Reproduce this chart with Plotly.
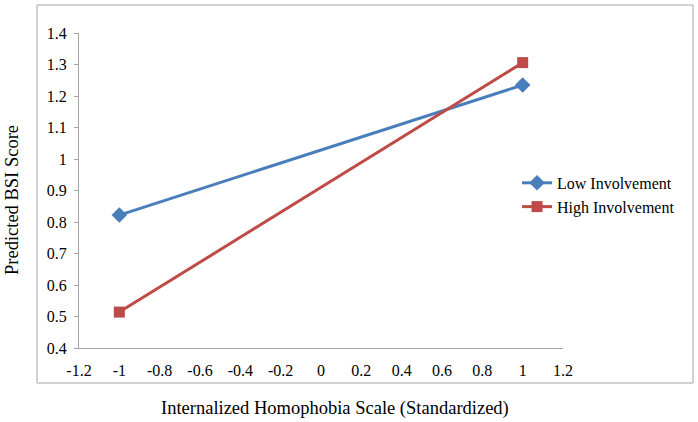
import plotly.graph_objects as go

x_vals = [-1, 1]
low_involvement = [0.822, 1.235]
high_involvement = [0.514, 1.306]
x_ticks = [-1.2, -1, -0.8, -0.6, -0.4, -0.2, 0, 0.2, 0.4, 0.6, 0.8, 1, 1.2]
x_tick_labels = ["-1.2", "-1", "-0.8", "-0.6", "-0.4", "-0.2", "0", "0.2", "0.4", "0.6", "0.8", "1", "1.2"]
y_ticks = [0.4, 0.5, 0.6, 0.7, 0.8, 0.9, 1.0, 1.1, 1.2, 1.3, 1.4]
y_tick_labels = ["0.4", "0.5", "0.6", "0.7", "0.8", "0.9", "1", "1.1", "1.2", "1.3", "1.4"]

font_family = "Liberation Serif, Times New Roman, serif"

fig = go.Figure()
fig.add_trace(go.Scatter(
    x=x_vals, y=low_involvement, mode="lines+markers", name="Low Involvement",
    line=dict(color="#4A7EBB", width=3),
    marker=dict(symbol="diamond", size=12, color="#4A7EBB"),
))
fig.add_trace(go.Scatter(
    x=x_vals, y=high_involvement, mode="lines+markers", name="High Involvement",
    line=dict(color="#BE4B48", width=3),
    marker=dict(symbol="square", size=11, color="#BE4B48"),
))

fig.update_layout(
    width=698, height=422,
    margin=dict(l=79, r=135, t=33, b=74),
    paper_bgcolor="white", plot_bgcolor="white",
    font=dict(family=font_family, size=16, color="black"),
    showlegend=True,
    legend=dict(x=0.905, y=0.486, xanchor="left", yanchor="middle",
                font=dict(family=font_family, size=16, color="black"),
                bgcolor="rgba(0,0,0,0)", tracegroupgap=0, itemwidth=30),
    shapes=[dict(type="rect", xref="paper", yref="paper",
                 x0=-42/484, x1=(693-79)/484, y0=-(383-348)/315, y1=(348-5)/315,
                 line=dict(color="#A6A6A6", width=1), fillcolor="rgba(0,0,0,0)", layer="below")],
    annotations=[
        dict(text="Internalized Homophobia Scale (Standardized)", xref="paper", yref="paper",
             x=(335-79)/484, y=-(408-348)/315, xanchor="center", yanchor="middle",
             showarrow=False, font=dict(family=font_family, size=18.5, color="black")),
        dict(text="Predicted BSI Score", xref="paper", yref="paper",
             x=(12-79)/484, y=(348-200)/315, xanchor="center", yanchor="middle", textangle=-90,
             showarrow=False, font=dict(family=font_family, size=18.5, color="black")),
    ],
)
fig.update_xaxes(range=[-1.2, 1.2], tickvals=x_ticks, ticktext=x_tick_labels,
                 showgrid=False, zeroline=False, showline=True, linecolor="#A6A6A6", linewidth=1,
                 ticks="", ticklabelstandoff=8)
fig.update_yaxes(range=[0.4, 1.4], tickvals=y_ticks, ticktext=y_tick_labels,
                 showgrid=False, zeroline=False, showline=True, linecolor="#A6A6A6", linewidth=1,
                 ticks="outside", ticklen=4, tickcolor="#A6A6A6", ticklabelstandoff=4)

fig.write_html("out.html", config={"displayModeBar": False},
               post_script="document.body.style.margin='0';document.body.style.padding='0';")
